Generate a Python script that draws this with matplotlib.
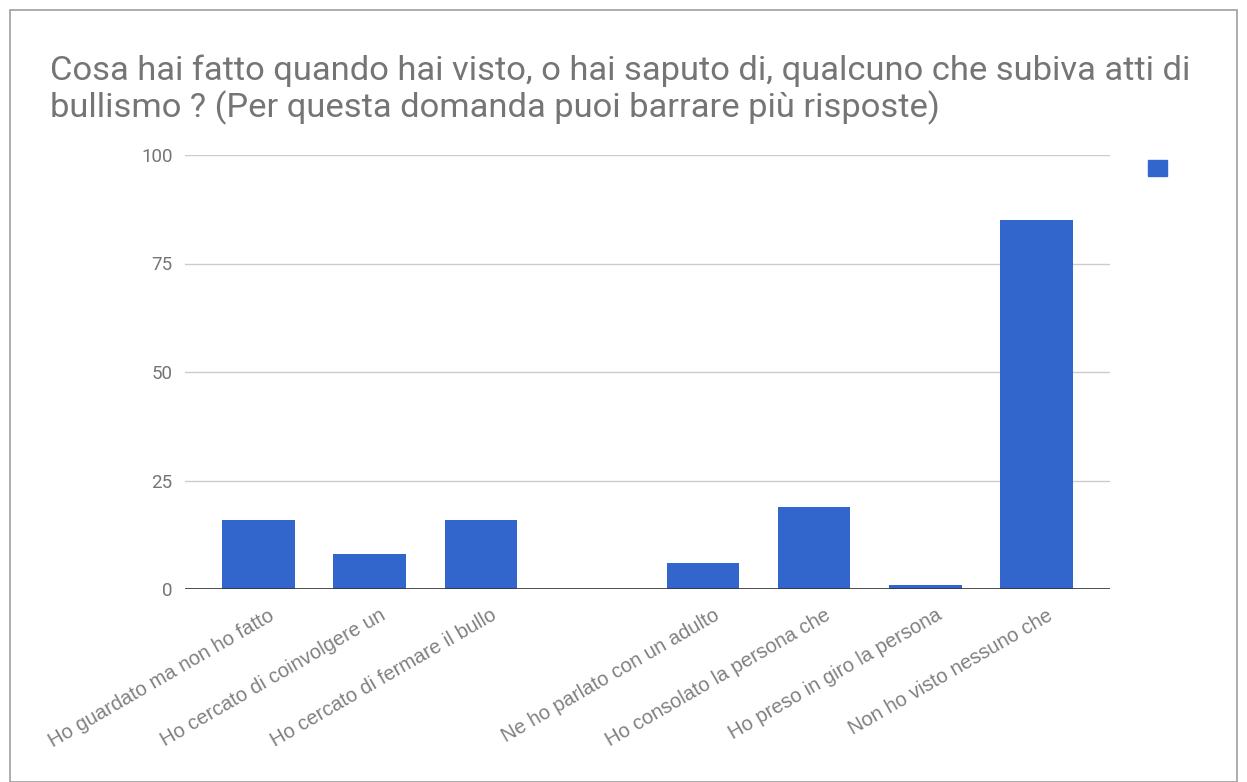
import numpy as np
import matplotlib
matplotlib.use('Agg')
import matplotlib.pyplot as plt
from matplotlib.patches import Patch, Rectangle
import matplotlib.transforms as mtransforms

categories = ['Ho guardato ma non ho fatto', 'Ho cercato di coinvolgere un',
              'Ho cercato di fermare il bullo', '',
              'Ne ho parlato con un adulto', 'Ho consolato la persona che',
              'Ho preso in giro la persona', 'Non ho visto nessuno che']
values = [16, 8, 16, 0, 6, 19, 1, 85]
yticks = [0, 25, 50, 75, 100]
title = ('Cosa hai fatto quando hai visto, o hai saputo di, qualcuno che subiva atti di\n'
         'bullismo ? (Per questa domanda puoi barrare più risposte)')

BLUE = '#3366cc'
GREY = '#757575'
plt.rcParams['font.family'] = ['Roboto', 'DejaVu Sans']

fig = plt.figure(figsize=(12.47, 7.82), dpi=100)
fig.patches.append(Rectangle((10/1247, 0), 1227/1247, 1 - 10/782, transform=fig.transFigure,
                             fill=False, edgecolor='#9e9e9e', lw=1.2))
ax = fig.add_axes([185/1247, 1 - 589/782, 925/1247, (589 - 155)/782])

x = np.arange(len(categories))
ax.bar(x, values, width=0.65, color=BLUE, zorder=3)
ax.set_xlim(-0.66, len(categories) - 0.34)
ax.set_ylim(0, 100)
ax.set_yticks(yticks)
ax.set_yticklabels([str(v) for v in yticks], color=GREY, fontsize=13.5)
ax.grid(axis='y', color='#cccccc', lw=1, zorder=0)
ax.axhline(0, color='#333333', lw=1.2, zorder=4)
for s in ax.spines.values():
    s.set_visible(False)
ax.tick_params(axis='y', length=0, pad=9)
ax.tick_params(axis='x', length=0, pad=12)

ax.set_xticks(x)
ax.set_xticklabels(categories, rotation=30, ha='right', va='top',
                   rotation_mode='anchor', color='#808080', fontsize=14.5,
                   family=['Liberation Sans', 'DejaVu Sans'])
off = mtransforms.ScaledTranslation(10/100, 0, fig.dpi_scale_trans)
for lbl in ax.get_xticklabels():
    lbl.set_transform(lbl.get_transform() + off)

fig.text(50/1247, 1 - 55/782, title, color=GREY, fontsize=24.8, ha='left', va='top',
         linespacing=1.1)

leg = fig.legend(handles=[Patch(color=BLUE)], labels=[''], loc='center',
                 bbox_to_anchor=(1163/1247, 1 - 168/782), frameon=False,
                 handlelength=1.4, handleheight=1.4)

fig.savefig('out.png', dpi=100)
